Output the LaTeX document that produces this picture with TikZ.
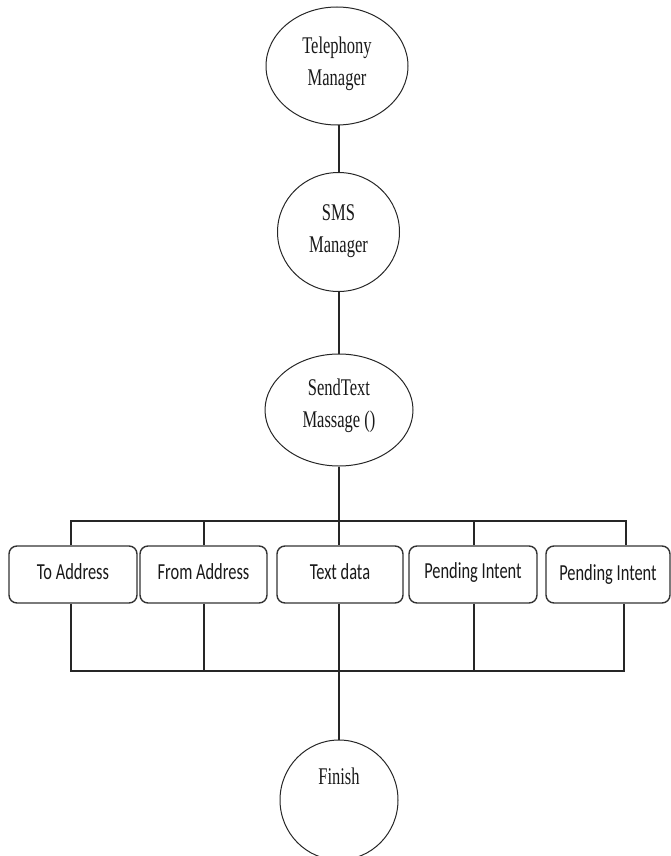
\documentclass[tikz,border=0pt]{standalone}
\usepackage{fontspec}
\setmainfont{Liberation Serif}
\newfontfamily\boxfont{Carlito}
\usetikzlibrary{shapes.geometric}
% tall, narrow lettering used throughout the chart
\newcommand{\tallserif}[1]{\scalebox{1}[1.45]{\fontsize{16.5}{22}\selectfont\begin{tabular}{@{}c@{}}#1\end{tabular}}}
\newcommand{\tallsans}[1]{\scalebox{1}[1.4]{\boxfont\fontsize{16.4}{20}\selectfont #1}}
\begin{document}
\begin{tikzpicture}[x=1pt,y=-1pt,
  line width=1.1pt,
  stage/.style={draw=black!85, ellipse, inner sep=0pt, line width=1pt},
  param/.style={draw=black!80, rounded corners=8pt, line width=1.4pt,
    minimum height=57pt, inner sep=0pt},
  wire/.style={draw=black!85, line width=1.1pt},
  label/.style={text=black!90}]
\useasboundingbox (0,0) rectangle (671,856);

% the three call stages
\node[stage, minimum width=142pt, minimum height=118pt] (tel) at (337,66) {};
\node[label] at (337,63) {\tallserif{Telephony\\Manager}};
\node[stage, minimum width=122pt, minimum height=119pt] (sms) at (338.5,232) {};
\node[label] at (338.5,230) {\tallserif{SMS\\Manager}};
\node[stage, minimum width=148pt, minimum height=112pt] (snd) at (339,410) {};
\node[label] at (339,405) {\tallserif{SendText\\Massage ()}};

% method parameters
\node[param, minimum width=128pt] (b1) at (73,574.5) {};
\node[label] at (73,572) {\tallsans{To Address}};
\node[param, minimum width=127pt] (b2) at (203.5,574.5) {};
\node[label] at (203.5,572) {\tallsans{From Address}};
\node[param, minimum width=126pt] (b3) at (340,574.5) {};
\node[label] at (340,572) {\tallsans{Text data}};
\node[param, minimum width=128pt] (b4) at (473,574.5) {};
\node[label] at (473,572) {\tallsans{Pending Intent}};
\node[param, minimum width=124pt] (b5) at (608,574.5) {};
\node[label] at (608,574) {\tallsans{Pending Intent}};

% end state
\node[stage, minimum width=118pt, minimum height=120pt] (fin) at (339,800) {};
\node[label] at (339,778) {\tallserif{Finish}};

% bus rails and the central trunk
\coordinate (topbus) at (0,521);
\coordinate (botbus) at (0,671);
\coordinate (trunk) at (339,0);

% connectors
\draw[wire] (trunk |- tel.south) -- (trunk |- sms.north);
\draw[wire] (trunk |- sms.south) -- (trunk |- snd.north);
\draw[wire] (trunk |- snd.south) -- (trunk |- b3.north);
\draw[wire] ([xshift=-2pt]b1.north) -- ([xshift=-2pt]b1.north |- topbus)
  -- ([xshift=18pt]b5.north |- topbus) -- ([xshift=18pt]b5.north);
\draw[wire] ([xshift=0.5pt]b2.north) -- ([xshift=0.5pt]b2.north |- topbus);
\draw[wire] ([xshift=1pt]b4.north) -- ([xshift=1pt]b4.north |- topbus);
\draw[wire] ([xshift=-2pt]b1.south) -- ([xshift=-2pt]b1.south |- botbus)
  -- ([xshift=16pt]b5.south |- botbus) -- ([xshift=16pt]b5.south);
\draw[wire] ([xshift=0.5pt]b2.south) -- ([xshift=0.5pt]b2.south |- botbus);
\draw[wire] ([xshift=1pt]b4.south) -- ([xshift=1pt]b4.south |- botbus);
\draw[wire] (trunk |- b3.south) -- (trunk |- fin.north);
\end{tikzpicture}
\end{document}
